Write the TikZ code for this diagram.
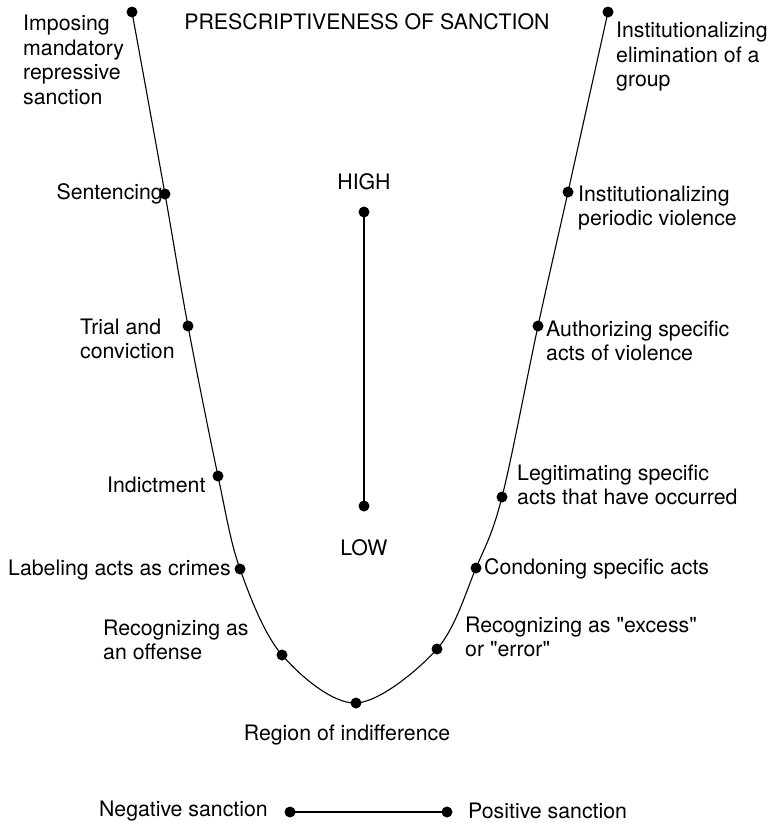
\documentclass[tikz,border=0pt]{standalone}
\usepackage{fontspec}
\setmainfont{TeX Gyre Heros}
\usepackage{tikz}
\usetikzlibrary{positioning}

\begin{document}
\begin{tikzpicture}[
    x=1pt, y=-1pt,
    dot/.style={
        circle, fill=black, inner sep=0pt, minimum size=11pt
    },
    lbl/.style={
        inner sep=0pt, align=left,
        font=\fontsize{21.3}{24.5}\selectfont
    },
    curve/.style={line width=1.1pt},
    edge/.style={line width=1.1pt}
]
\useasboundingbox (0,0) rectangle (768,823);

% 1. Dots on the curve
\node[dot] (neg6) at (132,12) {};
\node[dot] (neg5) at (165,194) {};
\node[dot] (neg4) at (188,326) {};
\node[dot] (neg3) at (218,476) {};
\node[dot] (neg2) at (240,569) {};
\node[dot] (neg1) at (282,655) {};
\node[dot] (zero) at (356,703) {};
\node[dot] (pos1) at (437,649) {};
\node[dot] (pos2) at (476,568) {};
\node[dot] (pos3) at (502,497) {};
\node[dot] (pos4) at (538,326) {};
\node[dot] (pos5) at (568,192) {};
\node[dot] (pos6) at (608,12) {};

% 2. Scale and axis dots
\node[dot] (high) at (364,212) {};
\node[dot] (low) at (364,506) {};
\node[dot] (negend) at (290,812) {};
\node[dot] (posend) at (447,812) {};

% 3. Labels
\node[lbl] (title) at (367,22) {PRESCRIPTIVENESS OF SANCTION};
\node[lbl] (hightxt) at (364,182) {HIGH};
\node[lbl] (lowtxt) at (364,548) {LOW};
\node[lbl] (indiff) at (347,735) {Region of indifference};
\node[lbl, anchor=east] (negtxt) at (268,811) {Negative sanction};
\node[lbl, anchor=west] (postxt) at (468,811) {Positive sanction};

\node[lbl, anchor=west] (impose) at (23,60) {Imposing\\mandatory\\repressive\\sanction};
\node[lbl, anchor=east] (sentence) at (163,194) {Sentencing};
\node[lbl, anchor=west] (trial) at (80,339) {Trial and\\conviction};
\node[lbl, anchor=west] (indict) at (107,485) {Indictment};
\node[lbl, anchor=west] (labeling) at (8,570) {Labeling acts as crimes};
\node[lbl, anchor=west] (offense) at (103,640) {Recognizing as\\an offense};

\node[lbl, anchor=west] (elim) at (616,57) {Institutionalizing\\elimination of a\\group};
\node[lbl, anchor=west] (periodic) at (578,208) {Institutionalizing\\periodic violence};
\node[lbl, anchor=west] (authorize) at (546,341) {Authorizing specific\\acts of violence};
\node[lbl, anchor=west] (legit) at (517,485) {Legitimating specific\\acts that have occurred};
\node[lbl, anchor=west] (condone) at (484,569) {Condoning specific acts};
\node[lbl, anchor=west] (excess) at (465,637) {Recognizing as \textquotedbl excess\textquotedbl\\or \textquotedbl error\textquotedbl};

% 4. Curve and lines
\draw[curve] plot[smooth, tension=0.55] coordinates {
    (neg6.center) (neg5.center) (neg4.center) (neg3.center) (neg2.center)
    (neg1.center) (zero.center) (pos1.center) (pos2.center) (pos3.center)
    (pos4.center) (pos5.center) (pos6.center)};
\draw[edge] (high.center) -- (low.center);
\draw[edge] (negend.center) -- (posend.center);

\end{tikzpicture}
\end{document}
